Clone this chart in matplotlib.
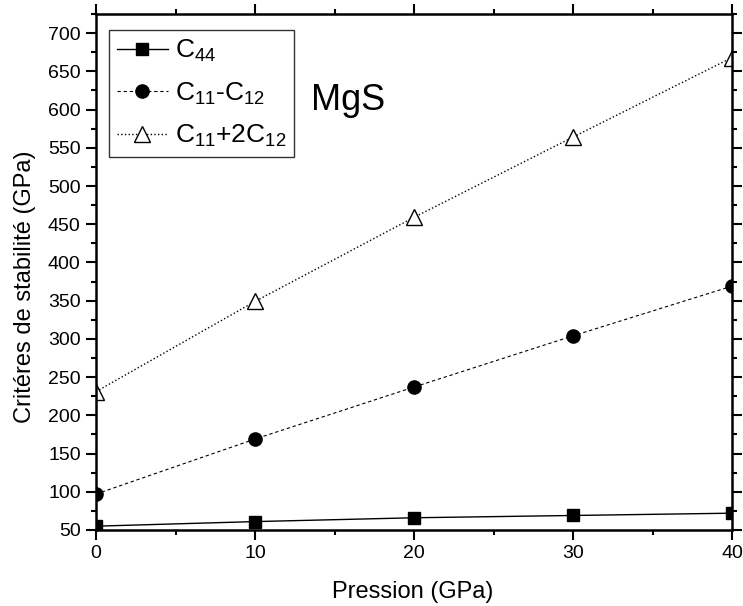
import matplotlib
matplotlib.use("Agg")
import matplotlib.pyplot as plt
from matplotlib.ticker import MultipleLocator

plt.rcParams["font.family"] = ["Liberation Sans", "DejaVu Sans"]
plt.rcParams["mathtext.fontset"] = "custom"
plt.rcParams["mathtext.rm"] = "Liberation Sans"
plt.rcParams["mathtext.it"] = "Liberation Sans"

pression = [0, 10, 20, 30, 40]
c44 = [55, 61, 66, 69, 72]
c11_minus_c12 = [97, 169, 237, 304, 369]
c11_plus_2c12 = [231, 349, 459, 564, 668]

fig = plt.figure(figsize=(7.43, 6.06), dpi=100)
ax = fig.add_axes([96 / 743, 1 - 530 / 606, 636 / 743, 516 / 606])

ax.plot(pression, c44, "-", color="black", lw=1.0, marker="s", ms=8.5,
        mfc="black", label=r"C$_{44}$")
ax.plot(pression, c11_minus_c12, "--", color="black", lw=0.8, dashes=(3, 2.5),
        marker="o", ms=9.5, mfc="black", label=r"C$_{11}$-C$_{12}$")
ax.plot(pression, c11_plus_2c12, ":", color="black", lw=1.0, marker="^",
        ms=11, mfc="white", mew=1.0, label=r"C$_{11}$+2C$_{12}$")

ax.set_xlim(0, 40)
ax.set_ylim(50, 725)
ax.xaxis.set_major_locator(MultipleLocator(10))
ax.xaxis.set_minor_locator(MultipleLocator(5))
ax.yaxis.set_major_locator(MultipleLocator(50))
ax.yaxis.set_minor_locator(MultipleLocator(25))
ax.tick_params(which="both", direction="out", top=True, right=True,
               labeltop=False, labelright=False, width=1.5, labelsize=14)
ax.tick_params(which="major", length=7, pad=4)
ax.tick_params(which="minor", length=3.5)
for s in ax.spines.values():
    s.set_linewidth(1.8)

ax.set_xlabel("Pression (GPa)", fontsize=17)
ax.xaxis.set_label_coords(0.498, -0.099)
ax.set_ylabel("Critéres de stabilité (GPa)", fontsize=17)
ax.yaxis.set_label_coords(-0.094, 0.471)

ax.text(0.338, 0.814, "MgS", transform=ax.transAxes, fontsize=26,
        ha="left", va="baseline")

leg = ax.legend(loc="upper left", bbox_to_anchor=(0.02, 0.969), fontsize=19,
                frameon=True, fancybox=False, edgecolor="black",
                borderpad=0.3, labelspacing=0.62, handlelength=1.95,
                handletextpad=0.25, borderaxespad=0)
leg.get_frame().set_linewidth(1.0)

fig.savefig("out.png", dpi=100)
